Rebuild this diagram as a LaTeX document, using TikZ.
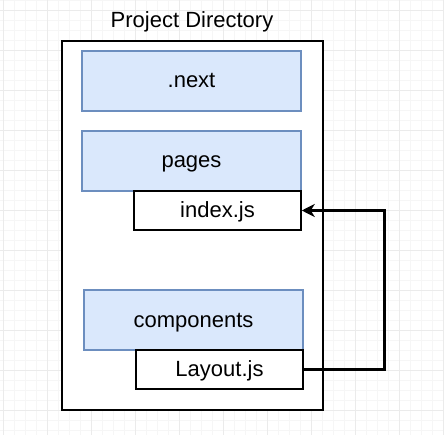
\documentclass[tikz,border=0pt]{standalone}
\usepackage{fontspec}
\setmainfont{Liberation Sans}
\usetikzlibrary{arrows.meta}
\definecolor{folderfill}{HTML}{DAE8FC}
\definecolor{folderline}{HTML}{6C8EBF}
\definecolor{gridmajor}{HTML}{EBEBEB}
\definecolor{gridminor}{HTML}{F6F6F6}
\tikzset{
  gridminorline/.style={draw=gridminor, line width=0.6pt},
  gridmajorline/.style={draw=gridmajor, line width=0.8pt},
  label/.style={font=\fontsize{22}{26}\selectfont, text=black,
    text height=18pt, text depth=4pt},
  folderbox/.style={label, draw=folderline, fill=folderfill, line width=1.5pt,
    minimum width=219pt, minimum height=60pt, inner sep=0pt},
  filebox/.style={label, draw=black, fill=white, line width=1.5pt,
    minimum width=167pt, minimum height=39pt, inner sep=0pt},
  container/.style={draw=black, line width=2pt, minimum width=260.5pt,
    minimum height=368pt, inner sep=0pt},
  importarrow/.style={draw=black, line width=3pt,
    -{Stealth[length=13pt, width=13pt, inset=4pt]}},
}
\begin{document}
\begin{tikzpicture}[x=1pt, y=-1pt]
  \useasboundingbox (0,0) rectangle (444,435);
  \fill[white] (0,0) rectangle (444,435);

  % background grid
  \foreach \i in {0,...,40} {
    \draw[gridminorline] (3+\i*11, 0) -- (3+\i*11, 435);
  }
  \foreach \i in {0,...,44} {
    \draw[gridminorline] (0, 0.7+\i*10) -- (444, 0.7+\i*10);
  }
  \foreach \i in {0,...,10} {
    \draw[gridmajorline] (3+\i*44, 0) -- (3+\i*44, 435);
  }
  \foreach \i in {0,...,11} {
    \draw[gridmajorline] (0, 10.7+\i*40) -- (444, 10.7+\i*40);
  }

  % project directory
  \node[label, inner sep=0pt] (title) at (192, 20.7) {Project Directory};
  \node[container, fill=white] (project) at (192.25, 225.5) {};

  % folders
  \node[folderbox] (next) at (191.5, 81) {.next};
  \node[folderbox] (pages) at (191.5, 161) {pages};
  \node[folderbox] (components) at (193.5, 320) {components};

  % files
  \node[filebox] (index) at (217.5, 210.5) {index.js};
  \node[filebox] (layout) at (219.5, 369.5) {Layout.js};

  % import link
  \coordinate (bend) at (384, 369.5);
  \draw[importarrow] (layout.east) -- (bend) |- (index.east);
\end{tikzpicture}
\end{document}
